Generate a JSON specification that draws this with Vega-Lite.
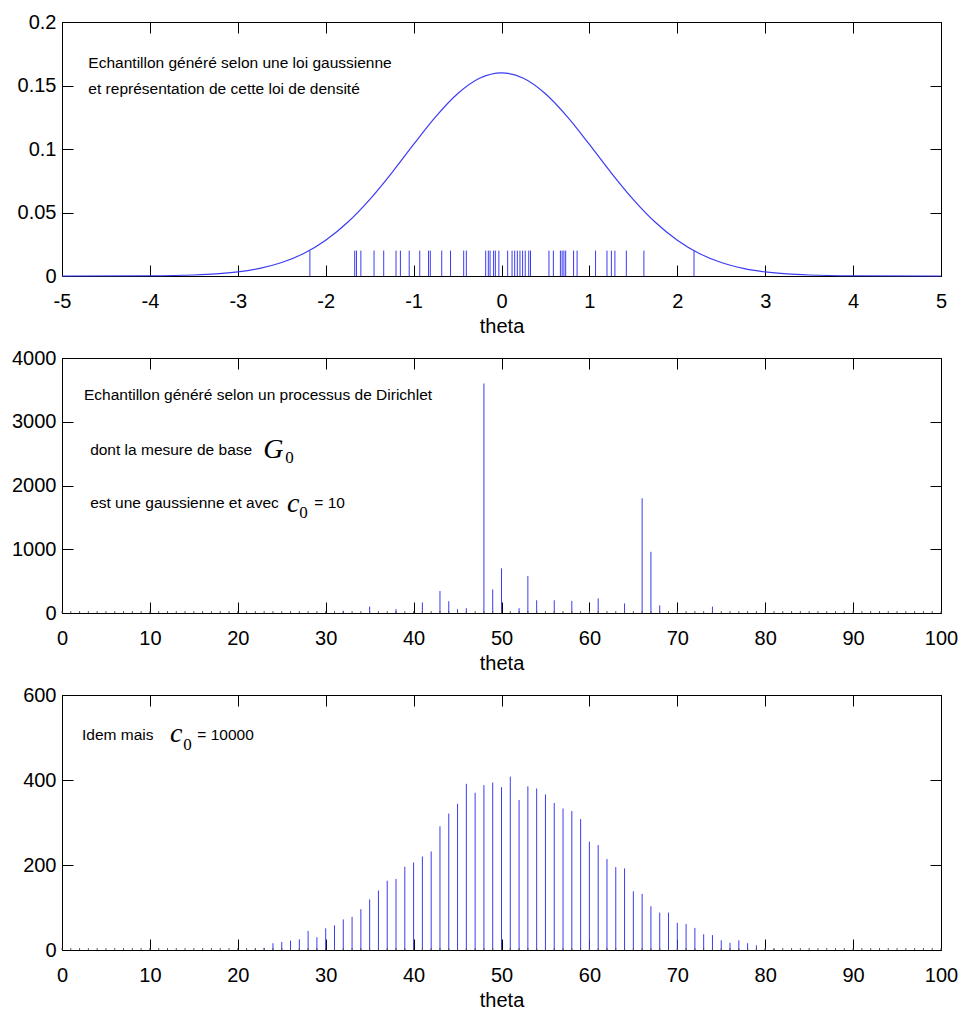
{
  "$schema": "https://vega.github.io/schema/vega-lite/v6.json",
  "padding": {"left": 11, "top": 11, "right": 3, "bottom": 0},
  "spacing": 10,
  "background": "white",
  "datasets": {
    "curve": [
      {"theta": -5, "d": 0}, {"theta": -4, "d": 0.0002}, {"theta": -3.5, "d": 0.0008}, {"theta": -3.25, "d": 0.0016},
      {"theta": -3, "d": 0.0032}, {"theta": -2.75, "d": 0.006}, {"theta": -2.5, "d": 0.0106}, {"theta": -2.25, "d": 0.0177},
      {"theta": -2, "d": 0.0281}, {"theta": -1.75, "d": 0.0423}, {"theta": -1.5, "d": 0.0602}, {"theta": -1.25, "d": 0.0811},
      {"theta": -1, "d": 0.1036}, {"theta": -0.75, "d": 0.1253}, {"theta": -0.5, "d": 0.1435}, {"theta": -0.25, "d": 0.1557},
      {"theta": 0, "d": 0.16}, {"theta": 0.25, "d": 0.1557}, {"theta": 0.5, "d": 0.1435}, {"theta": 0.75, "d": 0.1253},
      {"theta": 1, "d": 0.1036}, {"theta": 1.25, "d": 0.0811}, {"theta": 1.5, "d": 0.0602}, {"theta": 1.75, "d": 0.0423},
      {"theta": 2, "d": 0.0281}, {"theta": 2.25, "d": 0.0177}, {"theta": 2.5, "d": 0.0106}, {"theta": 2.75, "d": 0.006},
      {"theta": 3, "d": 0.0032}, {"theta": 3.25, "d": 0.0016}, {"theta": 3.5, "d": 0.0008}, {"theta": 4, "d": 0.0002},
      {"theta": 5, "d": 0}
    ],
    "rug": [
      {"theta": -2.18}, {"theta": -1.67}, {"theta": -1.65}, {"theta": -1.6}, {"theta": -1.45}, {"theta": -1.34},
      {"theta": -1.2}, {"theta": -1.15}, {"theta": -1.05}, {"theta": -0.93}, {"theta": -0.83}, {"theta": -0.81},
      {"theta": -0.68}, {"theta": -0.58}, {"theta": -0.43}, {"theta": -0.4}, {"theta": -0.18}, {"theta": -0.15},
      {"theta": -0.13}, {"theta": -0.09}, {"theta": -0.07}, {"theta": -0.03}, {"theta": 0.07}, {"theta": 0.12},
      {"theta": 0.15}, {"theta": 0.18}, {"theta": 0.21}, {"theta": 0.24}, {"theta": 0.27}, {"theta": 0.31},
      {"theta": 0.33}, {"theta": 0.54}, {"theta": 0.59}, {"theta": 0.67}, {"theta": 0.69}, {"theta": 0.71},
      {"theta": 0.73}, {"theta": 0.82}, {"theta": 0.86}, {"theta": 1.07}, {"theta": 1.2}, {"theta": 1.25},
      {"theta": 1.29}, {"theta": 1.42}, {"theta": 1.62}, {"theta": 2.19}
    ],
    "dp10": [
      {"theta":0,"v":0},{"theta":1,"v":0},{"theta":2,"v":0},{"theta":3,"v":0},{"theta":4,"v":0},{"theta":5,"v":0},{"theta":6,"v":0},{"theta":7,"v":0},{"theta":8,"v":0},{"theta":9,"v":0},
      {"theta":10,"v":0},{"theta":11,"v":0},{"theta":12,"v":0},{"theta":13,"v":0},{"theta":14,"v":0},{"theta":15,"v":0},{"theta":16,"v":0},{"theta":17,"v":0},{"theta":18,"v":0},{"theta":19,"v":0},
      {"theta":20,"v":0},{"theta":21,"v":0},{"theta":22,"v":0},{"theta":23,"v":0},{"theta":24,"v":0},{"theta":25,"v":0},{"theta":26,"v":0},{"theta":27,"v":0},{"theta":28,"v":0},{"theta":29,"v":0},
      {"theta":30,"v":0},{"theta":31,"v":0},{"theta":32,"v":35},{"theta":33,"v":0},{"theta":34,"v":0},{"theta":35,"v":100},{"theta":36,"v":0},{"theta":37,"v":0},{"theta":38,"v":60},{"theta":39,"v":0},
      {"theta":40,"v":0},{"theta":41,"v":165},{"theta":42,"v":0},{"theta":43,"v":345},{"theta":44,"v":185},{"theta":45,"v":60},{"theta":46,"v":75},{"theta":47,"v":0},{"theta":48,"v":3600},{"theta":49,"v":370},
      {"theta":50,"v":700},{"theta":51,"v":0},{"theta":52,"v":75},{"theta":53,"v":580},{"theta":54,"v":200},{"theta":55,"v":0},{"theta":56,"v":200},{"theta":57,"v":0},{"theta":58,"v":190},{"theta":59,"v":0},
      {"theta":60,"v":0},{"theta":61,"v":230},{"theta":62,"v":0},{"theta":63,"v":0},{"theta":64,"v":150},{"theta":65,"v":0},{"theta":66,"v":1800},{"theta":67,"v":960},{"theta":68,"v":120},{"theta":69,"v":0},
      {"theta":70,"v":0},{"theta":71,"v":0},{"theta":72,"v":0},{"theta":73,"v":0},{"theta":74,"v":100},{"theta":75,"v":0},{"theta":76,"v":0},{"theta":77,"v":0},{"theta":78,"v":0},{"theta":79,"v":0},
      {"theta":80,"v":0},{"theta":81,"v":0},{"theta":82,"v":0},{"theta":83,"v":0},{"theta":84,"v":0},{"theta":85,"v":0},{"theta":86,"v":0},{"theta":87,"v":0},{"theta":88,"v":0},{"theta":89,"v":0},
      {"theta":90,"v":0},{"theta":91,"v":0},{"theta":92,"v":0},{"theta":93,"v":0},{"theta":94,"v":0},{"theta":95,"v":0},{"theta":96,"v":0},{"theta":97,"v":0},{"theta":98,"v":0},{"theta":99,"v":0},
      {"theta":100,"v":0}
    ],
    "dp10000": [
      {"theta":0,"v":0},{"theta":1,"v":0},{"theta":2,"v":0},{"theta":3,"v":0},{"theta":4,"v":0},{"theta":5,"v":0},{"theta":6,"v":0},{"theta":7,"v":0},{"theta":8,"v":0},{"theta":9,"v":0},
      {"theta":10,"v":0},{"theta":11,"v":0},{"theta":12,"v":0},{"theta":13,"v":0},{"theta":14,"v":0},{"theta":15,"v":0},{"theta":16,"v":0},{"theta":17,"v":0},{"theta":18,"v":0},{"theta":19,"v":0},
      {"theta":20,"v":0},{"theta":21,"v":0},{"theta":22,"v":4},{"theta":23,"v":5},{"theta":24,"v":16},{"theta":25,"v":19},{"theta":26,"v":22},{"theta":27,"v":25},{"theta":28,"v":45},{"theta":29,"v":30},
      {"theta":30,"v":51},{"theta":31,"v":58},{"theta":32,"v":72},{"theta":33,"v":78},{"theta":34,"v":96},{"theta":35,"v":119},{"theta":36,"v":140},{"theta":37,"v":163},{"theta":38,"v":167},{"theta":39,"v":196},
      {"theta":40,"v":206},{"theta":41,"v":220},{"theta":42,"v":232},{"theta":43,"v":291},{"theta":44,"v":321},{"theta":45,"v":344},{"theta":46,"v":391},{"theta":47,"v":370},{"theta":48,"v":388},{"theta":49,"v":394},
      {"theta":50,"v":383},{"theta":51,"v":408},{"theta":52,"v":353},{"theta":53,"v":385},{"theta":54,"v":380},{"theta":55,"v":366},{"theta":56,"v":346},{"theta":57,"v":333},{"theta":58,"v":327},{"theta":59,"v":308},
      {"theta":60,"v":255},{"theta":61,"v":247},{"theta":62,"v":214},{"theta":63,"v":195},{"theta":64,"v":192},{"theta":65,"v":138},{"theta":66,"v":132},{"theta":67,"v":103},{"theta":68,"v":88},{"theta":69,"v":88},
      {"theta":70,"v":64},{"theta":71,"v":61},{"theta":72,"v":52},{"theta":73,"v":37},{"theta":74,"v":35},{"theta":75,"v":23},{"theta":76,"v":17},{"theta":77,"v":23},{"theta":78,"v":16},{"theta":79,"v":11},
      {"theta":80,"v":4},{"theta":81,"v":3},{"theta":82,"v":0},{"theta":83,"v":0},{"theta":84,"v":0},{"theta":85,"v":0},{"theta":86,"v":0},{"theta":87,"v":0},{"theta":88,"v":0},{"theta":89,"v":0},
      {"theta":90,"v":0},{"theta":91,"v":0},{"theta":92,"v":0},{"theta":93,"v":0},{"theta":94,"v":0},{"theta":95,"v":0},{"theta":96,"v":0},{"theta":97,"v":0},{"theta":98,"v":0},{"theta":99,"v":0},
      {"theta":100,"v":0}
    ],
    "ann1": [
      {"x": -4.7, "y": 0.1638, "t": "Echantillon généré selon une loi gaussienne"},
      {"x": -4.7, "y": 0.1433, "t": "et représentation de cette loi de densité"}
    ],
    "ann2": [
      {"x": 2.5, "y": 3341, "t": "Echantillon généré selon un processus de Dirichlet"},
      {"x": 3.2, "y": 2478, "t": "dont la mesure de base"},
      {"x": 3.2, "y": 1647, "t": "est une gaussienne et avec"},
      {"x": 28.7, "y": 1647, "t": "= 10"}
    ],
    "sym2": [
      {"x": 22.9, "y": 2431, "t": "G"},
      {"x": 25.6, "y": 1584, "t": "c"}
    ],
    "sub2": [
      {"x": 25.4, "y": 2353, "t": "0"},
      {"x": 27.0, "y": 1490, "t": "0"}
    ],
    "ann3": [
      {"x": 2.28, "y": 494, "t": "Idem mais"},
      {"x": 15.4, "y": 494, "t": "= 10000"}
    ],
    "sym3": [
      {"x": 12.3, "y": 489, "t": "c"}
    ],
    "sub3": [
      {"x": 13.8, "y": 471, "t": "0"}
    ]
  },
  "vconcat": [
    {
      "width": 879,
      "height": 254,
      "layer": [
        {
          "data": {"name": "curve"},
          "mark": {"type": "line", "color": "#3c3cf2", "strokeWidth": 1.2, "interpolate": "monotone"},
          "encoding": {
            "x": {"field": "theta", "type": "quantitative", "scale": {"domain": [-5, 5], "nice": false, "zero": false},
                  "axis": {"orient": "bottom", "title": "theta", "values": [-5,-4,-3,-2,-1,0,1,2,3,4,5], "labelExpr": "'' + datum.value"}},
            "y": {"field": "d", "type": "quantitative", "scale": {"domain": [0, 0.2], "nice": false},
                  "axis": {"orient": "left", "title": null, "values": [0, 0.05, 0.1, 0.15, 0.2], "labelExpr": "'' + datum.value"}}
          }
        },
        {
          "data": {"name": "rug"},
          "mark": {"type": "rule", "color": "#3c3cf2", "strokeWidth": 1},
          "encoding": {
            "x": {"field": "theta", "type": "quantitative", "scale": {"domain": [-5, 5], "nice": false, "zero": false}, "axis": null},
            "y": {"datum": 0, "type": "quantitative", "scale": {"domain": [0, 0.2], "nice": false}, "axis": null},
            "y2": {"datum": 0.02}
          }
        },
        {
          "data": {"name": "ann1"},
          "mark": {"type": "text", "align": "left", "baseline": "alphabetic", "font": "Liberation Sans", "fontSize": 15.5, "color": "black"},
          "encoding": {
            "x": {"field": "x", "type": "quantitative", "scale": {"domain": [-5, 5], "nice": false, "zero": false},
                  "axis": {"orient": "top", "labels": false, "title": null, "values": [-5,-4,-3,-2,-1,0,1,2,3,4,5]}},
            "y": {"field": "y", "type": "quantitative", "scale": {"domain": [0, 0.2], "nice": false},
                  "axis": {"orient": "right", "labels": false, "title": null, "values": [0, 0.05, 0.1, 0.15, 0.2]}},
            "text": {"field": "t"}
          }
        }
      ],
      "resolve": {"axis": {"x": "independent", "y": "independent"}}
    },
    {
      "width": 879,
      "height": 255,
      "layer": [
        {
          "data": {"name": "dp10"},
          "mark": {"type": "rule", "color": "#3c3cf2", "strokeWidth": 1},
          "encoding": {
            "x": {"field": "theta", "type": "quantitative", "scale": {"domain": [0, 100], "nice": false, "zero": false},
                  "axis": {"orient": "bottom", "title": "theta", "values": [0,10,20,30,40,50,60,70,80,90,100], "labelExpr": "'' + datum.value"}},
            "y": {"field": "v", "type": "quantitative", "scale": {"domain": [0, 4000], "nice": false},
                  "axis": {"orient": "left", "title": null, "values": [0, 1000, 2000, 3000, 4000], "labelExpr": "'' + datum.value"}},
            "y2": {"datum": 0}
          }
        },
        {
          "data": {"name": "dp10"},
          "mark": {"type": "rule", "color": "#555555", "strokeWidth": 1},
          "encoding": {
            "x": {"field": "theta", "type": "quantitative", "scale": {"domain": [0, 100], "nice": false, "zero": false}, "axis": null},
            "y": {"datum": 0, "type": "quantitative", "scale": {"domain": [0, 4000], "nice": false}, "axis": null},
            "y2": {"datum": 30}
          }
        },
        {
          "data": {"name": "ann2"},
          "mark": {"type": "text", "align": "left", "baseline": "alphabetic", "font": "Liberation Sans", "fontSize": 15.5, "color": "black"},
          "encoding": {
            "x": {"field": "x", "type": "quantitative", "scale": {"domain": [0, 100], "nice": false, "zero": false},
                  "axis": {"orient": "top", "labels": false, "title": null, "values": [0,10,20,30,40,50,60,70,80,90,100]}},
            "y": {"field": "y", "type": "quantitative", "scale": {"domain": [0, 4000], "nice": false},
                  "axis": {"orient": "right", "labels": false, "title": null, "values": [0, 1000, 2000, 3000, 4000]}},
            "text": {"field": "t"}
          }
        },
        {
          "data": {"name": "sym2"},
          "mark": {"type": "text", "align": "left", "baseline": "alphabetic", "font": "Liberation Serif", "fontStyle": "italic", "fontSize": 28, "color": "black"},
          "encoding": {
            "x": {"field": "x", "type": "quantitative", "scale": {"domain": [0, 100], "nice": false, "zero": false}, "axis": null},
            "y": {"field": "y", "type": "quantitative", "scale": {"domain": [0, 4000], "nice": false}, "axis": null},
            "text": {"field": "t"}
          }
        },
        {
          "data": {"name": "sub2"},
          "mark": {"type": "text", "align": "left", "baseline": "alphabetic", "font": "Liberation Serif", "fontSize": 17, "color": "black"},
          "encoding": {
            "x": {"field": "x", "type": "quantitative", "scale": {"domain": [0, 100], "nice": false, "zero": false}, "axis": null},
            "y": {"field": "y", "type": "quantitative", "scale": {"domain": [0, 4000], "nice": false}, "axis": null},
            "text": {"field": "t"}
          }
        }
      ],
      "resolve": {"axis": {"x": "independent", "y": "independent"}}
    },
    {
      "width": 879,
      "height": 255,
      "layer": [
        {
          "data": {"name": "dp10000"},
          "mark": {"type": "rule", "color": "#3c3cf2", "strokeWidth": 1},
          "encoding": {
            "x": {"field": "theta", "type": "quantitative", "scale": {"domain": [0, 100], "nice": false, "zero": false},
                  "axis": {"orient": "bottom", "title": "theta", "values": [0,10,20,30,40,50,60,70,80,90,100], "labelExpr": "'' + datum.value"}},
            "y": {"field": "v", "type": "quantitative", "scale": {"domain": [0, 600], "nice": false},
                  "axis": {"orient": "left", "title": null, "values": [0, 200, 400, 600], "labelExpr": "'' + datum.value"}},
            "y2": {"datum": 0}
          }
        },
        {
          "data": {"name": "dp10000"},
          "mark": {"type": "rule", "color": "#555555", "strokeWidth": 1},
          "encoding": {
            "x": {"field": "theta", "type": "quantitative", "scale": {"domain": [0, 100], "nice": false, "zero": false}, "axis": null},
            "y": {"datum": 0, "type": "quantitative", "scale": {"domain": [0, 600], "nice": false}, "axis": null},
            "y2": {"datum": 4.5}
          }
        },
        {
          "data": {"name": "ann3"},
          "mark": {"type": "text", "align": "left", "baseline": "alphabetic", "font": "Liberation Sans", "fontSize": 15.5, "color": "black"},
          "encoding": {
            "x": {"field": "x", "type": "quantitative", "scale": {"domain": [0, 100], "nice": false, "zero": false},
                  "axis": {"orient": "top", "labels": false, "title": null, "values": [0,10,20,30,40,50,60,70,80,90,100]}},
            "y": {"field": "y", "type": "quantitative", "scale": {"domain": [0, 600], "nice": false},
                  "axis": {"orient": "right", "labels": false, "title": null, "values": [0, 200, 400, 600]}},
            "text": {"field": "t"}
          }
        },
        {
          "data": {"name": "sym3"},
          "mark": {"type": "text", "align": "left", "baseline": "alphabetic", "font": "Liberation Serif", "fontStyle": "italic", "fontSize": 28, "color": "black"},
          "encoding": {
            "x": {"field": "x", "type": "quantitative", "scale": {"domain": [0, 100], "nice": false, "zero": false}, "axis": null},
            "y": {"field": "y", "type": "quantitative", "scale": {"domain": [0, 600], "nice": false}, "axis": null},
            "text": {"field": "t"}
          }
        },
        {
          "data": {"name": "sub3"},
          "mark": {"type": "text", "align": "left", "baseline": "alphabetic", "font": "Liberation Serif", "fontSize": 17, "color": "black"},
          "encoding": {
            "x": {"field": "x", "type": "quantitative", "scale": {"domain": [0, 100], "nice": false, "zero": false}, "axis": null},
            "y": {"field": "y", "type": "quantitative", "scale": {"domain": [0, 600], "nice": false}, "axis": null},
            "text": {"field": "t"}
          }
        }
      ],
      "resolve": {"axis": {"x": "independent", "y": "independent"}}
    }
  ],
  "config": {
    "font": "Liberation Sans",
    "view": {"stroke": "#000000", "strokeWidth": 1},
    "axis": {
      "grid": false,
      "domainColor": "#000000",
      "tickColor": "#000000",
      "labelColor": "#000000",
      "titleColor": "#000000",
      "labelFont": "Liberation Sans",
      "titleFont": "Liberation Sans",
      "labelFontSize": 20,
      "titleFontSize": 20,
      "titleFontWeight": "normal",
      "tickSize": -11,
      "tickWidth": 1,
      "domainWidth": 1,
      "labelFlush": false,
      "labelOverlap": false,
      "titlePadding": 4.6
    },
    "axisX": {"labelPadding": 26.4},
    "axisY": {"labelPadding": 17}
  }
}
